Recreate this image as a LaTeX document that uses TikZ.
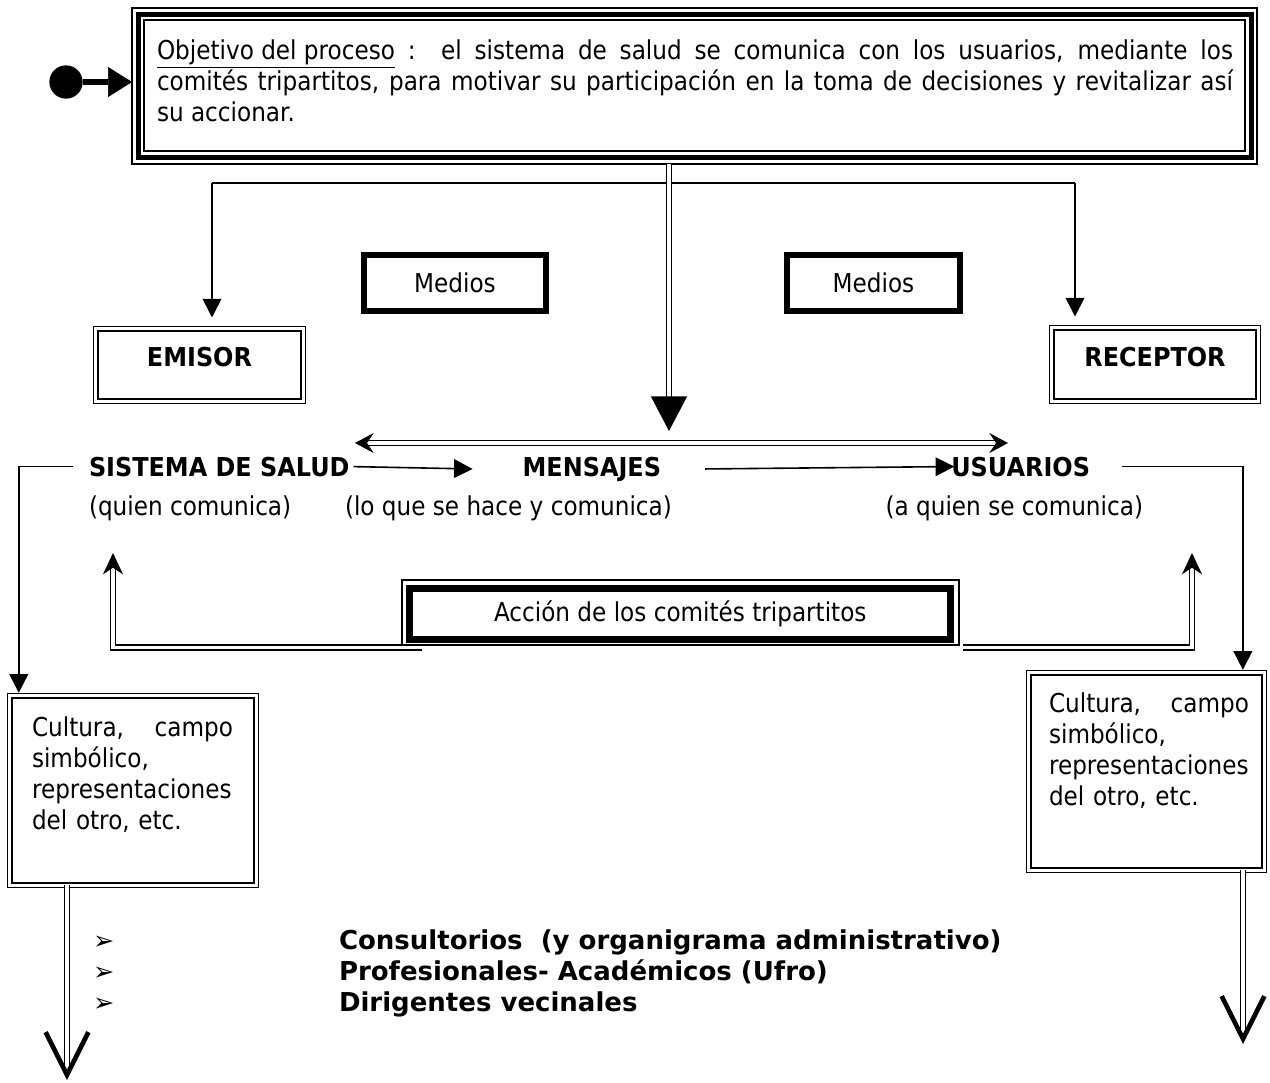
\documentclass[tikz,border=0pt]{standalone}
\usepackage{fontspec}
\setmainfont[FakeStretch=0.89]{DejaVu Sans}
\newfontfamily\symfont{DejaVu Sans}
\newfontfamily\hdfont[FakeStretch=0.92]{DejaVu Sans}
\usetikzlibrary{arrows.meta,calc}
\begin{document}
\begin{tikzpicture}[x=0.75pt,y=-0.75pt,
  every node/.style={inner sep=0pt,outer sep=0pt,font=\fontsize{19.5pt}{23.25pt}\selectfont},
  conn/.style={line width=1.2pt},
  tri/.style={-{Triangle[length=14pt,width=14pt]}},
  dbl/.style={double,line width=1pt,double distance=2.6pt},
  thickbox/.style={draw,line width=4pt},
  dblbox/.style={draw,double,line width=0.9pt,double distance=2.4pt},
  lbl/.style={font=\fontsize{19.5pt}{23.25pt}\hdfont\bfseries},
  listtxt/.style={font=\fontsize{19.5pt}{23.25pt}\symfont\bfseries},
  vhead/.style={-{Straight Barb[length=32pt,width=32pt,line width=3.5pt]}}]
\useasboundingbox (0,0) rectangle (1270,1082);
\fill[white] (0,0) rectangle (1270,1082);

% top objective box
\node[draw,conn,minimum width=825.75pt,minimum height=98.25pt] (obj) at (694.5,85.5) {};
\draw[line width=3.75pt] ($(obj.north west)+(-6,-6)$) rectangle ($(obj.south east)+(6,6.5)$);
\draw[conn] ($(obj.north west)+(-12,-12)$) rectangle ($(obj.south east)+(12,13)$);
\node[anchor=north west,text width=807pt,align=justify] (objtxt) at (157,40)
 {\underline{Objetivo del proceso}\ :\ \ el sistema de salud se comunica con los usuarios, mediante los\linebreak comités tripartitos, para motivar su participación en la toma de decisiones y revitalizar así\linebreak su accionar.};

\node[circle,fill,minimum size=25pt] (dot) at (66,82) {};
\draw[line width=5pt,-{Triangle[length=18pt,width=22.5pt,line width=0.4pt]}] (dot) -- ($(obj.west |- dot)+(-12,0)$);

% medios and emisor / receptor
\node[thickbox,minimum width=136.5pt,minimum height=42pt] (m1) at (455,283) {Medios};
\node[thickbox,minimum width=129.75pt,minimum height=42pt] (m2) at (873.5,283) {Medios};
\node[dblbox,minimum width=155.5pt,minimum height=54.3pt,lbl] (emisor) at (199.5,365) {\raisebox{12pt}{EMISOR}};
\node[dblbox,minimum width=154.8pt,minimum height=55pt,lbl] (receptor) at (1155,364.5) {\raisebox{12pt}{RECEPTOR}};

% top distribution connectors
\coordinate (jl) at (212,183);
\coordinate (jr) at (1075,183);
\coordinate (ctop) at (669,164);
\coordinate (ctip) at (669,431);
\draw[conn] (jl) -- (jr);
\draw[conn,tri,shorten >=8.5pt] (jl) -- (jl |- emisor.north);
\draw[conn,tri,shorten >=8.5pt] (jr) -- (jr |- receptor.north);
\draw[dbl,-{Triangle[length=26pt,width=27pt]}] (ctop) -- (ctip);

% main row
\node[lbl,anchor=base west] (sis) at (89,476) {SISTEMA DE SALUD};
\node[lbl,anchor=base east] (men) at (661,476) {MENSAJES};
\node[lbl,anchor=base east] (usu) at (1090,476) {USUARIOS};
\node[anchor=base west] (sub1) at (89,515) {(quien comunica)};
\node[anchor=base west] (sub2) at (345,515) {(lo que se hace y comunica)};
\node[anchor=base east] (sub3) at (1143,515) {(a quien se comunica)};

\coordinate (hl) at (355,443);
\coordinate (hr) at (1008,443);
\draw[dbl,{Stealth[length=14pt,width=15pt,inset=5pt]}-{Stealth[length=14pt,width=15pt,inset=5pt]}] (hl) -- (hr);

\draw[conn,tri,shorten <=3pt] (sis.east) -- ($(men.west)+(-50,0)$);
\draw[conn,tri] ($(men.east)+(44,0)$) -- ($(usu.west)+(3,0)$);

% action box
\node[thickbox,line width=5.25pt,minimum width=406pt,minimum height=38.25pt] (acc) at (680.25,614) {Acción de los comités tripartitos};
\draw[conn] ($(acc.north west)+(-7.5,-8.5)$) rectangle ($(acc.south east)+(8,5.5)$);
\coordinate (rl) at (113,553);
\coordinate (rr) at (1192,553);
\draw[dbl,-{Stealth[length=16pt,width=15pt,inset=5pt]}] ($(acc.south west)+(12.5,8)$) -| (rl);
\draw[dbl,-{Stealth[length=16pt,width=15pt,inset=5pt]}] ($(acc.south east)+(12,8)$) -| (rr);

% culture boxes
\node[dblbox,minimum width=184.8pt,minimum height=142pt] (cl) at (133,790.5) {};
\node[anchor=north west,text width=150.75pt,align=left] (cltxt) at (32,717)
 {\hbox to 150.75pt{Cultura,\hfill campo}\\simbólico,\\representaciones\\del otro, etc.};
\node[dblbox,minimum width=176.5pt,minimum height=148pt] (cr) at (1146.5,771.5) {};
\node[anchor=north west,text width=150pt,align=left] (crtxt) at (1049,693)
 {\hbox to 150pt{Cultura,\hfill campo}\\simbólico,\\representaciones\\del otro, etc.};

\draw[conn,tri] ($(sis.west)+(-16,0)$) -| ($(cl.north west)+(9,-3)$);
\draw[conn,tri] ($(usu.east)+(32,0)$) -| ($(cr.north west)+(214,-3)$);

\coordinate (dl) at (67,1080);
\coordinate (dr) at (1243,1044);
\draw[dbl,vhead] (dl |- cl.south) -- (dl);
\draw[dbl,vhead] (dr |- cr.south) -- (dr);

% list
\node[anchor=base west] (li1) at (93,949) {\makebox[184.5pt][l]{\fontsize{19pt}{19pt}\symfont ➢}{\symfont\bfseries Consultorios\ \ (y organigrama administrativo)}};
\node[anchor=base west] (li2) at (93,980) {\makebox[184.5pt][l]{\fontsize{19pt}{19pt}\symfont ➢}{\symfont\bfseries Profesionales- Académicos (Ufro)}};
\node[anchor=base west] (li3) at (93,1011) {\makebox[184.5pt][l]{\fontsize{19pt}{19pt}\symfont ➢}{\symfont\bfseries Dirigentes vecinales}};
\end{tikzpicture}
\end{document}
